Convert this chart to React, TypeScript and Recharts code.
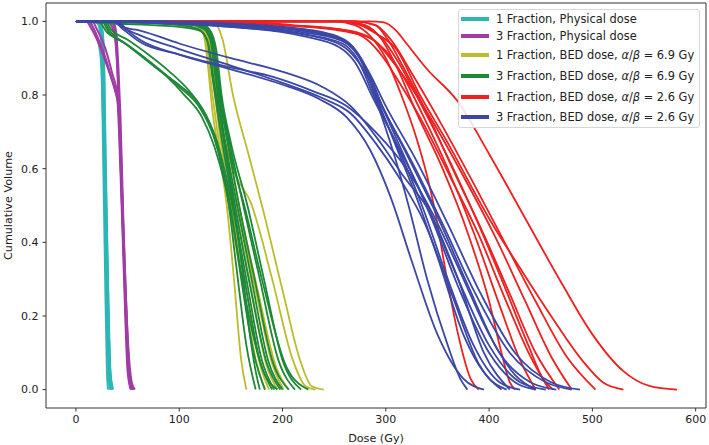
import React from "react";
import { LineChart, Line, XAxis, YAxis, ReferenceLine } from "recharts";

type Pt = [number, number];

// dose (Gy), cumulative volume
const oneFxPhysical: Pt[][] = [
  [[0, 1], [18, 1], [22, 0.99], [24, 0.96], [25, 0.9], [26, 0.7], [28, 0.35], [30, 0.05], [31, 0]],
  [[0, 1], [20, 1], [23, 0.98], [25, 0.93], [26.5, 0.7], [29, 0.35], [31.5, 0.05], [33, 0]],
  [[0, 1], [12, 1], [16, 0.985], [20, 0.96], [24, 0.9], [26, 0.75], [29, 0.4], [32, 0.06], [34, 0]],
  [[0, 1], [22, 1], [25, 0.98], [27, 0.92], [28, 0.7], [30.5, 0.35], [33, 0.05], [35, 0]],
  [[0, 1], [21, 1], [24, 0.985], [26, 0.94], [27.5, 0.7], [30, 0.35], [33, 0.06], [36, 0]],
  [[0, 1], [23, 1], [26, 0.97], [27.5, 0.85], [29, 0.6], [31, 0.3], [33.5, 0.04], [35, 0]],
];

const threeFxPhysical: Pt[][] = [
  [[0, 1], [10, 1], [15, 0.98], [22, 0.94], [30, 0.88], [36, 0.83], [40, 0.79], [43, 0.6], [46, 0.35], [50, 0.05], [53, 0]],
  [[0, 1], [13, 1], [18, 0.975], [25, 0.93], [32, 0.87], [38, 0.81], [41, 0.77], [44, 0.55], [47, 0.3], [51, 0.04], [54, 0]],
  [[0, 1], [16, 1], [20, 0.98], [28, 0.93], [35, 0.86], [40, 0.8], [43, 0.7], [46, 0.4], [50, 0.1], [53, 0.01], [55, 0]],
  [[0, 1], [34, 1], [37, 0.98], [39, 0.93], [41, 0.8], [44, 0.55], [48, 0.25], [52, 0.03], [56, 0]],
  [[0, 1], [36, 1], [39, 0.97], [41, 0.88], [43, 0.75], [46, 0.45], [50, 0.15], [54, 0.02], [57, 0]],
  [[0, 1], [30, 1], [35, 0.985], [38, 0.95], [41, 0.83], [44, 0.6], [48, 0.28], [52, 0.04], [55, 0]],
];

const oneFxBed69: Pt[][] = [
  [[0, 1], [105, 1], [118, 0.99], [124, 0.96], [127, 0.9], [132, 0.76], [140, 0.62], [146, 0.5], [153, 0.3], [160, 0.08], [165, 0]],
  [[0, 1], [108, 1], [120, 0.99], [126, 0.95], [130, 0.85], [137, 0.7], [148, 0.5], [162, 0.28], [175, 0.07], [183, 0]],
  [[0, 1], [110, 1], [122, 0.99], [128, 0.95], [132, 0.86], [139, 0.7], [150, 0.5], [165, 0.27], [178, 0.07], [187, 0]],
  [[0, 1], [112, 1], [123, 0.99], [129, 0.95], [134, 0.85], [141, 0.7], [154, 0.5], [170, 0.27], [184, 0.07], [195, 0]],
  [[0, 1], [100, 1], [115, 0.99], [125, 0.96], [131, 0.88], [140, 0.72], [156, 0.5], [174, 0.27], [190, 0.07], [201, 0]],
  [[0, 1], [60, 0.998], [100, 0.99], [120, 0.975], [130, 0.94], [136, 0.85], [145, 0.7], [158, 0.5], [176, 0.27], [194, 0.06], [206, 0]],
  [[0, 1], [112, 1], [122, 0.99], [128, 0.95], [133, 0.85], [142, 0.7], [155, 0.58], [169, 0.51], [190, 0.3], [210, 0.08], [222, 0.01], [232, 0]],
  [[0, 1], [110, 1], [125, 0.998], [136, 0.99], [142, 0.95], [152, 0.8], [167, 0.64], [181, 0.49], [200, 0.27], [217, 0.08], [228, 0.01], [240, 0]],
];

const threeFxBed69: Pt[][] = [
  [[0, 1], [22, 1], [30, 0.97], [45, 0.945], [62, 0.91], [82, 0.865], [101, 0.825], [118, 0.78], [130, 0.72], [140, 0.62], [147, 0.52], [155, 0.34], [165, 0.12], [174, 0]],
  [[0, 1], [25, 1], [32, 0.97], [48, 0.94], [65, 0.905], [85, 0.86], [101, 0.82], [120, 0.765], [133, 0.69], [143, 0.59], [150, 0.49], [160, 0.3], [172, 0.1], [183, 0]],
  [[0, 1], [28, 1], [35, 0.975], [50, 0.95], [70, 0.91], [90, 0.865], [110, 0.81], [125, 0.75], [137, 0.67], [146, 0.57], [154, 0.46], [165, 0.27], [178, 0.08], [190, 0]],
  [[0, 1], [26, 1], [34, 0.97], [50, 0.935], [68, 0.895], [88, 0.85], [105, 0.8], [122, 0.74], [134, 0.66], [144, 0.56], [152, 0.45], [164, 0.25], [180, 0.06], [195, 0]],
  [[0, 1], [40, 0.998], [100, 0.99], [118, 0.98], [127, 0.95], [132, 0.85], [140, 0.7], [152, 0.5], [165, 0.3], [180, 0.08], [192, 0]],
  [[0, 1], [50, 1], [110, 0.995], [122, 0.985], [130, 0.95], [135, 0.85], [143, 0.7], [156, 0.5], [170, 0.3], [186, 0.08], [200, 0]],
  [[0, 1], [60, 1], [115, 0.995], [125, 0.98], [132, 0.94], [137, 0.83], [145, 0.7], [158, 0.5], [173, 0.3], [190, 0.08], [206, 0]],
  [[0, 1], [30, 0.995], [100, 0.985], [120, 0.975], [128, 0.94], [134, 0.83], [142, 0.7], [154, 0.5], [168, 0.29], [185, 0.07], [198, 0]],
  [[0, 1], [50, 1], [118, 0.995], [128, 0.98], [134, 0.93], [140, 0.8], [148, 0.68], [162, 0.5], [178, 0.3], [196, 0.08], [212, 0]],
  [[0, 1], [60, 1], [120, 0.995], [130, 0.975], [136, 0.92], [141, 0.8], [150, 0.67], [166, 0.5], [182, 0.3], [200, 0.08], [218, 0]],
  [[0, 1], [40, 0.998], [112, 0.99], [126, 0.975], [133, 0.93], [139, 0.8], [148, 0.66], [163, 0.5], [180, 0.3], [204, 0.06], [225, 0]],
  [[0, 1], [55, 1], [116, 0.993], [126, 0.98], [131, 0.95], [135, 0.86], [141, 0.72], [150, 0.55], [158, 0.4], [166, 0.2], [174, 0.05], [178, 0]],
];

const oneFxBed26: Pt[][] = [
  [[0, 1], [285, 1], [297, 0.998], [310, 0.975], [320, 0.94], [340, 0.87], [369, 0.785], [400, 0.64], [436, 0.46], [470, 0.29], [500, 0.15], [530, 0.05], [555, 0.01], [582, 0]],
  [[0, 1], [255, 1], [275, 0.99], [291, 0.966], [310, 0.925], [333, 0.8], [360, 0.67], [385, 0.54], [401, 0.46], [430, 0.33], [460, 0.2], [490, 0.08], [510, 0.02], [530, 0]],
  [[0, 1], [250, 1], [270, 0.99], [285, 0.96], [300, 0.9], [315, 0.8], [330, 0.68], [340, 0.58], [348, 0.48], [358, 0.32], [370, 0.15], [382, 0.03], [390, 0]],
  [[0, 1], [260, 1], [280, 0.99], [295, 0.955], [310, 0.88], [330, 0.75], [355, 0.6], [380, 0.42], [400, 0.24], [412, 0.1], [420, 0.02], [425, 0]],
  [[0, 1], [120, 1], [200, 0.99], [265, 0.975], [285, 0.955], [300, 0.92], [315, 0.86], [335, 0.75], [360, 0.6], [386, 0.42], [410, 0.23], [430, 0.08], [445, 0]],
  [[0, 1], [140, 1], [210, 0.99], [262, 0.975], [282, 0.95], [298, 0.9], [314, 0.83], [335, 0.73], [362, 0.58], [390, 0.42], [415, 0.25], [440, 0.09], [458, 0]],
  [[0, 1], [270, 1], [290, 0.99], [302, 0.95], [318, 0.87], [340, 0.75], [368, 0.58], [395, 0.42], [420, 0.26], [445, 0.1], [468, 0]],
  [[0, 1], [130, 1], [200, 0.99], [265, 0.97], [288, 0.95], [304, 0.9], [320, 0.84], [345, 0.73], [375, 0.58], [405, 0.42], [435, 0.24], [460, 0.09], [480, 0]],
  [[0, 1], [270, 1], [290, 0.99], [305, 0.95], [325, 0.86], [352, 0.73], [385, 0.56], [415, 0.4], [445, 0.24], [475, 0.09], [503, 0]],
  [[0, 1], [262, 1], [282, 0.985], [296, 0.955], [312, 0.89], [335, 0.77], [362, 0.62], [388, 0.46], [412, 0.3], [438, 0.12], [452, 0.03], [462, 0]],
];

const threeFxBed26: Pt[][] = [
  [[0, 1], [35, 1], [45, 0.985], [62, 0.975], [100, 0.94], [150, 0.9], [198, 0.865], [240, 0.82], [266, 0.77], [295, 0.67], [317, 0.58], [343, 0.48], [370, 0.3], [395, 0.1], [420, 0]],
  [[0, 1], [38, 1], [48, 0.98], [62, 0.962], [100, 0.925], [150, 0.88], [198, 0.835], [240, 0.79], [266, 0.75], [290, 0.67], [312, 0.58], [338, 0.45], [365, 0.25], [390, 0.07], [412, 0]],
  [[0, 1], [40, 1], [50, 0.975], [62, 0.95], [100, 0.91], [150, 0.87], [198, 0.83], [235, 0.79], [262, 0.74], [285, 0.65], [305, 0.52], [325, 0.35], [350, 0.15], [375, 0.03], [395, 0]],
  [[0, 1], [36, 1], [45, 0.98], [62, 0.944], [100, 0.91], [150, 0.875], [190, 0.85], [230, 0.81], [262, 0.77], [290, 0.7], [320, 0.6], [345, 0.48], [372, 0.32], [400, 0.15], [425, 0.04], [445, 0]],
  [[0, 1], [60, 1], [150, 0.99], [220, 0.97], [255, 0.95], [270, 0.92], [280, 0.87], [295, 0.75], [310, 0.62], [322, 0.5], [340, 0.3], [360, 0.12], [372, 0.03], [379, 0]],
  [[0, 1], [60, 1], [160, 0.99], [230, 0.97], [260, 0.945], [275, 0.9], [290, 0.8], [310, 0.66], [330, 0.52], [350, 0.36], [375, 0.15], [400, 0.03], [417, 0]],
  [[0, 1], [50, 1], [150, 0.985], [220, 0.965], [258, 0.94], [272, 0.9], [288, 0.8], [308, 0.68], [335, 0.5], [360, 0.3], [385, 0.12], [410, 0.02], [430, 0]],
  [[0, 1], [80, 1], [180, 0.99], [240, 0.97], [265, 0.94], [280, 0.88], [298, 0.76], [320, 0.62], [345, 0.46], [370, 0.28], [400, 0.1], [425, 0.02], [445, 0]],
  [[0, 1], [50, 0.998], [150, 0.985], [220, 0.96], [255, 0.93], [270, 0.89], [288, 0.79], [312, 0.66], [340, 0.5], [370, 0.3], [400, 0.12], [430, 0.02], [455, 0]],
  [[0, 1], [70, 1], [170, 0.99], [235, 0.97], [262, 0.945], [278, 0.89], [295, 0.78], [320, 0.64], [350, 0.47], [380, 0.28], [410, 0.1], [440, 0.02], [465, 0]],
  [[0, 1], [60, 1], [160, 0.985], [230, 0.96], [260, 0.93], [276, 0.88], [296, 0.77], [325, 0.62], [355, 0.45], [385, 0.27], [420, 0.1], [455, 0.02], [480, 0]],
  [[0, 1], [80, 0.998], [180, 0.985], [240, 0.965], [265, 0.935], [282, 0.87], [300, 0.77], [330, 0.62], [360, 0.45], [392, 0.26], [425, 0.1], [460, 0.02], [488, 0]],
];

const doseTicks = [0, 100, 200, 300, 400, 500, 600];
const volTicks = [0, 0.2, 0.4, 0.6, 0.8, 1.0];

const groups = [
  { key: "c", curves: oneFxPhysical, color: "#2cb6b6", width: 2, label: "1 Fraction, Physical dose", ratio: "" },
  { key: "m", curves: threeFxPhysical, color: "#a03ca4", width: 2, label: "3 Fraction, Physical dose", ratio: "" },
  { key: "y", curves: oneFxBed69, color: "#bcbc2c", width: 1.8, label: "1 Fraction, BED dose, ", ratio: "6.9" },
  { key: "g", curves: threeFxBed69, color: "#1d8838", width: 1.8, label: "3 Fraction, BED dose, ", ratio: "6.9" },
  { key: "r", curves: oneFxBed26, color: "#ee2020", width: 1.8, label: "1 Fraction, BED dose, ", ratio: "2.6" },
  { key: "b", curves: threeFxBed26, color: "#3b47a6", width: 1.8, label: "3 Fraction, BED dose, ", ratio: "2.6" },
];

const legendRowY = [8.5, 26, 45, 66, 87, 107];

const toPoints = (c: Pt[]) => c.map(([dose, vol]) => ({ dose, vol }));

const tickStyle = { fill: "#222", fontSize: 11 };

function DvhLegend() {
  return (
    <div
      style={{
        position: "absolute",
        left: 458,
        top: 9,
        width: 242,
        height: 119,
        boxSizing: "border-box",
        border: "1px solid #d6d6d6",
        borderRadius: 3,
        background: "rgba(255,255,255,0.85)",
        fontSize: 11.4,
        color: "#222",
      }}
    >
      {groups.map((g, i) => (
        <div
          key={g.key}
          style={{ position: "absolute", left: 0, top: legendRowY[i] - 8, height: 16, display: "flex", alignItems: "center", whiteSpace: "nowrap" }}
        >
          <span style={{ display: "inline-block", width: 28, height: 4, marginLeft: 2, background: g.color }} />
          <span style={{ marginLeft: 7 }}>
            {g.label}
            {g.ratio && (
              <>
                <i>α</i>/<i>β</i> = {g.ratio} Gy
              </>
            )}
          </span>
        </div>
      ))}
    </div>
  );
}

export default function App() {
  return (
    <div
      style={{
        position: "absolute",
        left: 0,
        top: 0,
        width: 709,
        height: 445,
        background: "#fff",
        fontFamily: '"DejaVu Sans", sans-serif',
      }}
    >
      <LineChart width={709} height={445} margin={{ top: 3, right: 3, bottom: 0, left: 0 }}>
        <XAxis
          type="number"
          dataKey="dose"
          domain={[-29, 610]}
          allowDataOverflow
          ticks={doseTicks}
          tickSize={3.5}
          tickMargin={4}
          stroke="#333"
          tick={tickStyle}
          height={37}
          label={{ value: "Dose (Gy)", position: "insideBottom", offset: 3, fill: "#222", fontSize: 11.2 }}
        />
        <YAxis
          type="number"
          domain={[-0.05, 1.05]}
          allowDataOverflow
          ticks={volTicks}
          tickFormatter={(v: number) => v.toFixed(1)}
          tickSize={3.5}
          tickMargin={4}
          stroke="#333"
          tick={tickStyle}
          width={46}
          label={{
            value: "Cumulative Volume",
            angle: -90,
            position: "insideLeft",
            offset: 8,
            fill: "#222",
            fontSize: 11.2,
            style: { textAnchor: "middle" },
          }}
        />
        <ReferenceLine y={1.05} stroke="#333" ifOverflow="visible" />
        <ReferenceLine x={610} stroke="#333" ifOverflow="visible" />
        {groups.map((g) =>
          g.curves.map((c, i) => (
            <Line
              key={`${g.key}${i}`}
              data={toPoints(c)}
              dataKey="vol"
              type="monotone"
              stroke={g.color}
              strokeWidth={g.width}
              dot={false}
              activeDot={false}
              isAnimationActive={false}
            />
          ))
        )}
      </LineChart>
      <DvhLegend />
    </div>
  );
}
